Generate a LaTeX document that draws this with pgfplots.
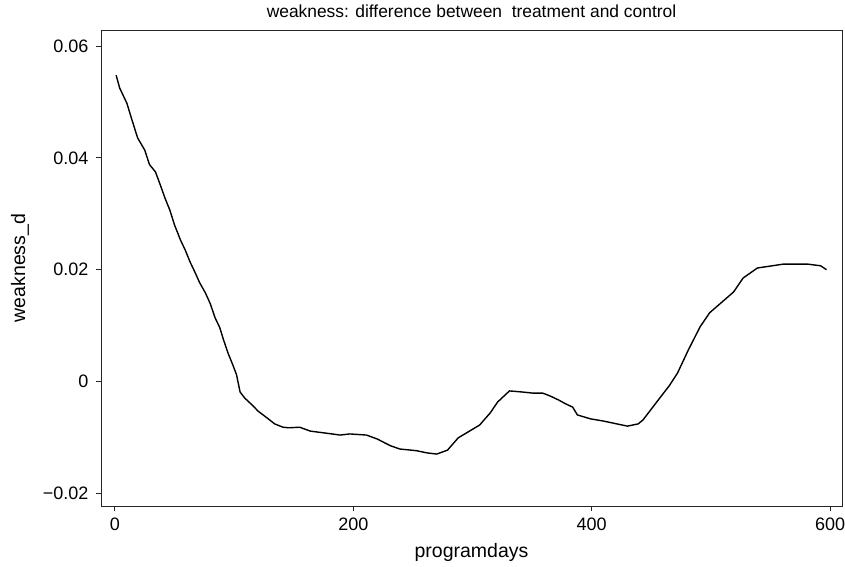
\documentclass[border=0pt]{standalone}
\usepackage{fontspec}
\setmainfont{Liberation Sans}
\usepackage{pgfplots}
\pgfplotsset{compat=1.18}

\begin{document}
\begin{tikzpicture}
\begin{axis}[
    scale only axis,
    width=741pt, height=476pt,
    xmin=-11.7, xmax=610,
    ymin=-0.0223, ymax=0.0629,
    xtick={0,200,400,600},
    ytick={-0.02,0,0.02,0.04,0.06},
    yticklabels={−0.02,0,0.02,0.04,0.06},
    /pgf/number format/assume math mode=true,
    scaled y ticks=false,
    tick align=outside, tick pos=left,
    major tick length=5pt,
    axis line style={black!85, line width=0.9pt},
    every tick/.style={black!85, line width=0.9pt},
    tick label style={font=\fontsize{18}{20}\selectfont},
    yticklabel style={xshift=-4pt},
    xticklabel style={yshift=-3pt},
    title={weakness: difference between\ \ treatment and control},
    title style={font=\fontsize{17.4}{19}\selectfont, at={(axis description cs:0.5,1)}, anchor=center, yshift=13pt},
    xlabel={programdays},
    xlabel style={font=\fontsize{19.5}{21}\selectfont, at={(axis description cs:0.5,0)}, anchor=center, yshift=-46pt},
    ylabel={weakness\_d},
    ylabel style={font=\fontsize{19.5}{21}\selectfont, at={(axis description cs:-0.1093,0.5)}, anchor=center},
]
\addplot[black, line width=1.4pt] table {
x y
1 0.0548
4 0.0525
10 0.0498
14 0.0470
19 0.0436
25 0.0414
29 0.0388
34 0.0375
38 0.0352
42 0.0328
46 0.0307
50 0.0280
55 0.0253
59 0.0235
63 0.0214
67 0.0196
71 0.0177
76 0.0158
80 0.0139
84 0.0114
88 0.0096
91 0.0075
95 0.0050
99 0.0029
102 0.0012
105 -0.0019
109 -0.0030
115 -0.0042
120 -0.0053
128 -0.0066
134 -0.0076
141 -0.0082
146 -0.0083
155 -0.0082
164 -0.0089
175 -0.0092
189 -0.0096
197 -0.0094
211 -0.0096
220 -0.0103
231 -0.0115
239 -0.0121
253 -0.0124
262 -0.0128
270 -0.0130
279 -0.0123
288 -0.0101
306 -0.0078
315 -0.0056
321 -0.0037
331 -0.0017
342 -0.0019
351 -0.0021
359 -0.0021
365 -0.0026
372 -0.0033
378 -0.0040
384 -0.0046
388 -0.0060
399 -0.0067
410 -0.0071
421 -0.0076
430 -0.0080
439 -0.0076
443 -0.0069
457 -0.0030
465 -0.0008
472 0.0015
481 0.0056
491 0.0098
499 0.0123
519 0.0160
527 0.0185
539 0.0203
561 0.0210
581 0.0210
592 0.0207
597 0.0200
};
\end{axis}
\pgfresetboundingbox
\path ([shift={(-101pt,-60pt)}]current axis.south west) rectangle ([shift={(3pt,30pt)}]current axis.north east);
\end{tikzpicture}
\end{document}
